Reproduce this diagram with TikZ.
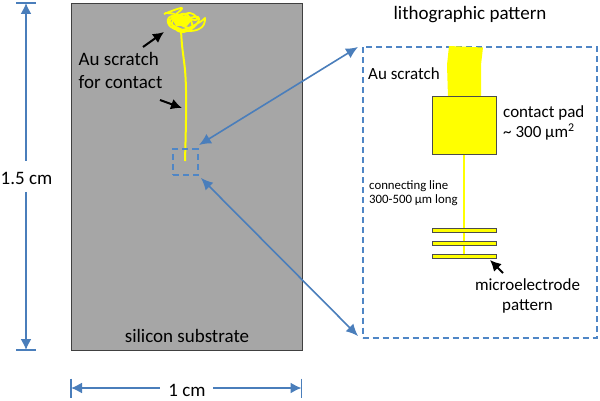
\documentclass[tikz,border=0pt]{standalone}
\usepackage{fontspec}
\setmainfont{Carlito}
\usetikzlibrary{arrows.meta}
\definecolor{bluel}{HTML}{4A7EBB}
\definecolor{dashc}{HTML}{4F86C6}
\definecolor{subst}{HTML}{A6A6A6}
\definecolor{yel}{HTML}{FFFF00}
\tikzset{x=1pt,y=-1pt,
  lbl/.style={text=black,inner sep=0pt,align=center},
  big/.style={font=\fontsize{19}{23}\selectfont},
  mid/.style={font=\fontsize{17}{20}\selectfont},
  small/.style={font=\fontsize{12.8}{14.5}\selectfont,text=black,inner sep=0pt,align=left},
  tickl/.style={draw=bluel,line width=1.6pt},
  headend/.style={-{Latex[length=11pt,width=11pt]}},
  headstart/.style={{Latex[length=11pt,width=11pt]}-},
  zoomline/.style={draw=bluel,line width=1.6pt,{Latex[length=12pt,width=11pt]}-{Latex[length=12pt,width=11pt]}},
  blk/.style={draw=black,line width=2pt,-{Latex[length=11pt,width=11pt]}},
  dashbox/.style={draw=dashc,line width=2pt,dash pattern=on 6pt off 4pt},
  padbox/.style={draw=black!70,fill=yel,line width=0.8pt,inner sep=0pt}}
\begin{document}
\begin{tikzpicture}
\useasboundingbox (0,0) rectangle (600,401);
\fill[white] (0,0) rectangle (600,401);
% substrate
\node[draw=black!75,fill=subst,line width=1pt,inner sep=0pt,minimum width=231pt,minimum height=347pt,anchor=north west] (sub) at (71,3) {};
% vertical dimension
\coordinate (vt) at (26,3);
\coordinate (vb) at (26,350);
\coordinate (vg1) at (26,161);
\coordinate (vg2) at (26,192);
\draw[tickl] (16,3)--(36,3) (16,350)--(36,350);
\node[lbl,big] (vlab) at (26.5,178) {1.5 cm};
\draw[tickl,headstart] (vt) -- (vg1);
\draw[tickl,headend] (vg2) -- (vb);
% horizontal dimension
\coordinate (hl) at (71,388);
\coordinate (hr) at (301.5,388);
\coordinate (hg1) at (160,388);
\coordinate (hg2) at (213,388);
\draw[tickl] (71,378.5)--(71,398) (301.5,378.5)--(301.5,398);
\node[lbl,big] (hlab) at (187,390) {1 cm};
\draw[tickl,headstart] (hl) -- (hg1);
\draw[tickl,headend] (hg2) -- (hr);
% yellow trace
\draw[yel,line width=2pt,line join=round] plot[smooth] coordinates {(181,30) (182,45) (185,70) (186,90) (186,120) (185,161)};
\draw[yel,line width=1.8pt,line join=round] plot[smooth,tension=.7] coordinates {
 (164,14) (182,8) (173,18) (190,13) (196,20) (172,16) (169,25) (182,30) (200,22) (205,18) (202,27) (190,31) (176,27)
 (170,20) (186,14) (192,28) (178,22) (198,17) (194,27) (181,32) (172,24) (176,15) (165,13)};
\fill[yel] (172,19)--(186,15)--(192,20)--(187,26)--(176,26)--cycle;
% labels on substrate
\node[lbl,big,align=left,anchor=north west] (au1) at (78.5,52) {Au scratch\\for contact};
\node[lbl,big] (si) at (187,336) {silicon substrate};
\coordinate (a1s) at (143,47);
\coordinate (a1e) at (164,32);
\draw[blk] (a1s) -- (a1e);
\coordinate (a2s) at (160,100);
\coordinate (a2e) at (182,108);
\draw[blk] (a2s) -- (a2e);
% small box
\node[dashbox,inner sep=0pt,minimum width=24.4pt,minimum height=26pt] (smallbox) at (185.5,162.3) {};
% large box
\node[dashbox,inner sep=0pt,minimum width=234.5pt,minimum height=290.5pt,anchor=north west] (bigbox) at (361.5,46) {};
\coordinate (zt) at (358,47);
\coordinate (zb) at (358,336);
\coordinate (st) at (199,145);
\coordinate (sb) at (201,178);
\draw[zoomline] (st) -- (zt);
\draw[zoomline] (sb) -- (zb);
\node[lbl,big] (title) at (470,15) {lithographic pattern};
% pattern
\fill[yel] (449,46)--(483,47.5)--(481,65)--(481,97)--(448,97)--(447,65)--cycle;
\node[padbox,minimum width=64pt,minimum height=58pt,anchor=north west] (pad) at (432,96.5) {};
\node[padbox,minimum width=64pt,minimum height=4pt,anchor=north west] (b1) at (432,228) {};
\node[padbox,minimum width=64pt,minimum height=4pt,anchor=north west] (b2) at (432,241) {};
\node[padbox,minimum width=64pt,minimum height=4pt,anchor=north west] (b3) at (432,253.5) {};
\draw[yel,line width=2pt] (pad.south) -- (b3.north);
\node[padbox,minimum width=64pt,minimum height=4pt] at (b1) {};
\node[padbox,minimum width=64pt,minimum height=4pt] at (b2) {};
\node[lbl,mid,anchor=west] (aul) at (368,74) {Au scratch};
\node[lbl,mid,anchor=west,align=left] (padl) at (503,123) {contact pad\\\textasciitilde{} 300 µm\textsuperscript{2}};
\node[small,anchor=west] (cl) at (369,193) {connecting line\\300-500 µm long};
\node[lbl,mid] (mp) at (527.5,296) {microelectrode\\pattern};
\coordinate (a3s) at (503,273);
\coordinate (a3e) at (490,260);
\draw[blk] (a3s) -- (a3e);
\end{tikzpicture}
\end{document}
